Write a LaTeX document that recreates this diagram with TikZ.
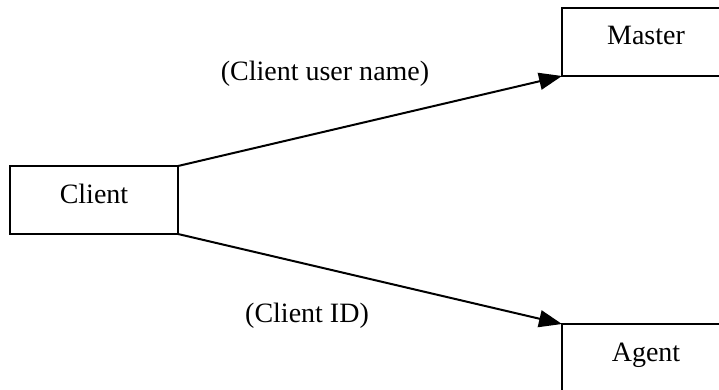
\documentclass[tikz,border=0pt]{standalone}
\usepackage{fontspec}
\setmainfont{Liberation Serif}
\usetikzlibrary{arrows.meta}
\begin{document}
\begin{tikzpicture}[x=1pt,y=-1pt,line width=2pt,
  font=\fontsize{28pt}{34pt}\selectfont,
  box/.style={draw,minimum width=168pt,minimum height=68pt,inner sep=0pt,outer sep=0pt,
    text height=20pt,text depth=14pt},
  lbl/.style={anchor=base},
  flow/.style={-{Triangle[length=23pt,width=17pt]}}]
\useasboundingbox (0,0) rectangle (719,390);
\clip (0,0) rectangle (719,390);
\node[box] (client) at (94,200) {Client};
\node[box] (master) at (646,42) {Master};
\node[box] (agent) at (646,358) {Agent};
\draw[flow] (client.north east) -- (master.south west);
\draw[flow] (client.south east) -- (agent.north west);
\node[lbl] (username) at (325,81) {(Client user name)};
\node[lbl] (clientid) at (307,322) {(Client ID)};
\end{tikzpicture}
\end{document}
